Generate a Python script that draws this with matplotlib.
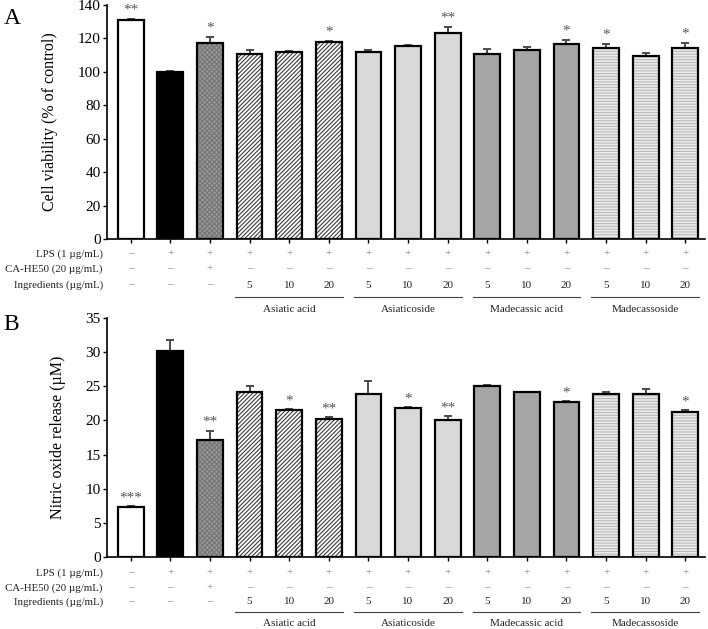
import numpy as np
import matplotlib.pyplot as plt
import matplotlib.transforms as mtransforms

plt.rcParams['font.family'] = ['Liberation Serif', 'DejaVu Serif']
plt.rcParams['hatch.linewidth'] = 0.8

# ---- data ----
viability = [131.2, 100.0, 117.1, 110.5, 111.7, 117.9, 112.0, 115.7, 123.5,
             110.7, 113.1, 116.5, 114.3, 109.5, 114.5]
viability_err = [0.5, 0.5, 3.8, 2.5, 0.7, 0.6, 0.8, 0.5, 3.5,
                 2.8, 2.0, 2.6, 2.6, 1.6, 2.8]
viability_sig = ['**', '', '*', '', '', '*', '', '', '**',
                 '', '', '*', '*', '', '*']

nitric = [7.3, 30.2, 17.2, 24.1, 21.5, 20.25, 23.9, 21.8, 20.1,
          25.0, 24.1, 22.7, 23.9, 23.8, 21.3]
nitric_err = [0.1, 1.5, 1.3, 1.0, 0.1, 0.2, 1.9, 0.1, 0.5,
              0.15, 0.1, 0.1, 0.2, 0.8, 0.15]
nitric_sig = ['***', '', '**', '', '*', '**', '', '*', '**',
              '', '', '*', '', '', '*']

lps_row = ['–', '+', '+'] + ['+'] * 12
cahe_row = ['–', '–', '+'] + ['–'] * 12
ingr_row = ['–', '–', '–'] + ['5', '10', '20'] * 4
row_labels = ['LPS (1 µg/mL)', 'CA-HE50 (20 µg/mL)', 'Ingredients (µg/mL)']
groups = ['Asiatic acid', 'Asiaticoside', 'Madecassic acid', 'Madecassoside']

# bar styles: (facecolor, hatch, hatch colour)
styles = [('white', None, None), ('black', None, None), ('#9a9a9a', 'xxxxxxx', '#747474')] + \
         [('white', '////////', '#3c3c3c')] * 3 + \
         [('#d9d9d9', None, None)] * 3 + \
         [('#a5a5a5', None, None)] * 3 + \
         [('#ececec', '------', '#b8b8b8')] * 3

x = np.arange(len(viability))


def draw_panel(ax, vals, errs, sig, ymax, ystep, ylabel, rows_y, line_y, name_y):
    for i, (v, (fc, h, hc)) in enumerate(zip(vals, styles)):
        ax.bar(i, v, width=0.65, color=fc, edgecolor=hc if hc else fc,
               hatch=h, linewidth=0, zorder=2)
        ax.bar(i, v, width=0.65, fill=False, edgecolor='black', linewidth=1.6, zorder=3)
    ax.errorbar(x, vals, yerr=[np.zeros(len(vals)), errs], fmt='none',
                ecolor='#4a4a4a', elinewidth=1.4, capsize=3, capthick=1.4, zorder=1)
    for i, s in enumerate(sig):
        if s:
            ax.annotate(s, (i, vals[i] + errs[i]), xytext=(0, 1.5), textcoords='offset points',
                        ha='center', va='bottom', fontsize=11, color='#555555')
    ax.set_xlim(-0.6, 14.5)
    ax.set_ylim(0, ymax)
    ax.set_yticks(np.arange(0, ymax + 1, ystep))
    ax.set_xticks(x)
    ax.set_xticklabels([])
    ax.tick_params(axis='x', length=3, width=1, direction='out')
    ax.tick_params(axis='y', length=3, width=1, pad=1.5, labelsize=11, direction='out')
    for sp in ['top', 'right']:
        ax.spines[sp].set_visible(False)
    ax.spines['left'].set_linewidth(1.2)
    ax.spines['bottom'].set_linewidth(1.2)
    ax.set_ylabel(ylabel, fontsize=11.5, labelpad=14)

    trans = mtransforms.blended_transform_factory(ax.transData, ax.transAxes)
    trans_ax = ax.transAxes
    for row, label, yy in zip([lps_row, cahe_row, ingr_row], row_labels, rows_y):
        ax.text(-0.007, yy, label, transform=trans_ax, ha='right', va='center',
                fontsize=7.8, color='#222222')
        for i, t in enumerate(row):
            col = '#222222' if t.isdigit() else '#777777'
            ax.text(i, yy, t, transform=trans, ha='center', va='center',
                    fontsize=8, color=col)
    for g, name in enumerate(groups):
        c = 4 + 3 * g
        ax.plot([c - 1.37, c + 1.35], [line_y, line_y], transform=trans,
                color='#444444', linewidth=0.8, clip_on=False)
        ax.text(c, name_y, name, transform=trans, ha='center', va='center',
                fontsize=8, color='#222222')


fig = plt.figure(figsize=(7.08, 6.29), dpi=100)
axA = fig.add_axes([0.151, 0.620, 0.845, 0.372])
axB = fig.add_axes([0.151, 0.1145, 0.845, 0.380])

draw_panel(axA, viability, viability_err, viability_sig, 140, 20,
           'Cell viability (% of control)', [-0.064, -0.128, -0.197], -0.248, -0.303)
draw_panel(axB, nitric, nitric_err, nitric_sig, 35, 5,
           'Nitric oxide release (µM)', [-0.067, -0.130, -0.188], -0.230, -0.279)

fig.text(0.005, 0.988, 'A', fontsize=17, va='top', ha='left')
fig.text(0.005, 0.500, 'B', fontsize=17, va='top', ha='left')

fig.savefig('out.png', dpi=100)
